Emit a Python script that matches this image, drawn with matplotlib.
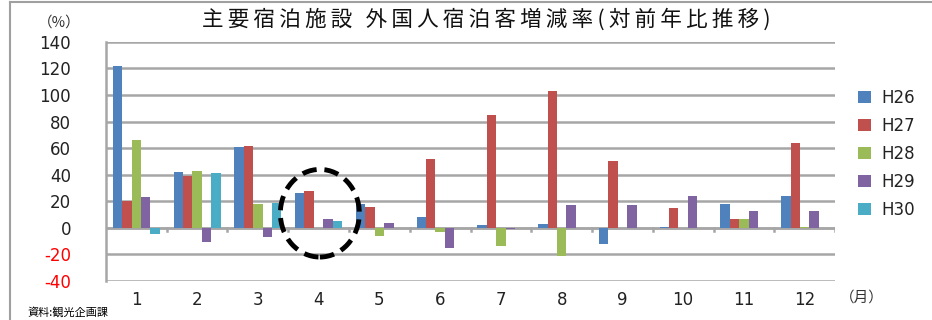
import matplotlib
matplotlib.use("Agg")
import matplotlib.pyplot as plt
from matplotlib.patches import Ellipse, Patch
from matplotlib.lines import Line2D
import numpy as np

plt.rcParams['font.family'] = ['DejaVu Sans', 'Noto Sans CJK JP']
cjk = ['Noto Sans CJK JP', 'DejaVu Sans']

# data
months = ["1", "2", "3", "4", "5", "6", "7", "8", "9", "10", "11", "12"]
series = ["H26", "H27", "H28", "H29", "H30"]
h26 = [122, 42, 61, 26, 18, 8, 2, 3, -12, 0.5, 18, 24]
h27 = [20, 39, 62, 28, 16, 52, 85, 103, 50, 15, 6.5, 64]
h28 = [66, 43, 18, 0, -6, -3, -14, -21, 0, 0, 7, 1]
h29 = [23, -11, -7, 6.5, 4, -15, -1, 17, 17, 24, 13, 13]
h30 = [-5, 41, 19, 5, np.nan, np.nan, np.nan, np.nan, np.nan, np.nan, np.nan, np.nan]
yticks = [-40, -20, 0, 20, 40, 60, 80, 100, 120, 140]
colors = ["#4F81BD", "#C0504D", "#9BBB59", "#8064A2", "#4BACC6"]

fig = plt.figure(figsize=(9.32, 3.2), dpi=100)
ax = fig.add_axes([0.1137, 0.122, 0.7823, 0.747])

x = np.arange(len(months))
bw = 0.155
for i, (vals, c) in enumerate(zip([h26, h27, h28, h29, h30], colors)):
    ax.bar(x + (i - 2) * bw, vals, width=bw, color=c, zorder=3)

ax.set_xlim(-0.5, len(months) - 0.5)
ax.set_ylim(-40, 140)
ax.set_yticks(yticks)
ax.set_yticklabels([str(v) for v in yticks], fontsize=12)
for lab, v in zip(ax.get_yticklabels(), yticks):
    lab.set_color("red" if v < 0 else "#222222")
ax.set_xticks(x)
ax.set_xticklabels(months, fontsize=12, color="#222222")
ax.tick_params(axis="y", length=0, pad=25)
ax.tick_params(axis="x", length=0, pad=7)

ax.grid(axis="y", color="#a6a6a6", linewidth=1.8, zorder=0)
for s in ["top", "right", "bottom"]:
    ax.spines[s].set_visible(False)
ax.spines["left"].set_color("#a6a6a6")
ax.spines["left"].set_linewidth(1.8)

# zero line with category separator ticks
ax.axhline(0, color="#a6a6a6", linewidth=1.8, zorder=2)
for b in np.arange(-0.5, len(months), 1.0)[1:]:
    ax.plot([b, b], [0, -2.5], color="#a6a6a6", linewidth=1.8, zorder=2)

# dashed circle around April
ax.add_patch(Ellipse((3.02, 11.0), 1.3, 66, fill=False, edgecolor="black",
                     linewidth=3.5, linestyle=(0, (3, 1.6)), zorder=5, clip_on=False))

handles = [Patch(facecolor=c, edgecolor="none") for c in colors]
fig.legend(handles, series, loc="upper left", bbox_to_anchor=(0.905, 0.77),
           frameon=False, fontsize=12, handlelength=0.75, handleheight=0.7,
           labelspacing=0.6, handletextpad=0.6, labelcolor="#222222")

title = "\u2009".join("主要宿泊施設 外国人宿泊客増減率(対前年比推移)")
fig.text(0.522, 0.94, title, ha="center", va="center", fontsize=15.5,
         family=cjk, color="#111111")
fig.text(0.064, 0.93, "（%）", ha="center", va="center", fontsize=10.5,
         family=cjk, color="#333333")
fig.text(0.925, 0.07, "（月）", ha="center", va="center", fontsize=10.5,
         family=cjk, color="#333333")
fig.text(0.03, 0.025, "資料:観光企画課", ha="left", va="center", fontsize=8,
         family=cjk)

# outer frame
fig.add_artist(Line2D([0.011, 0.011], [0, 0.993], color="#a0a0a0", linewidth=1.5))
fig.add_artist(Line2D([0.011, 1], [0.993, 0.993], color="#a0a0a0", linewidth=1.5))

fig.savefig("out.png", dpi=100)
